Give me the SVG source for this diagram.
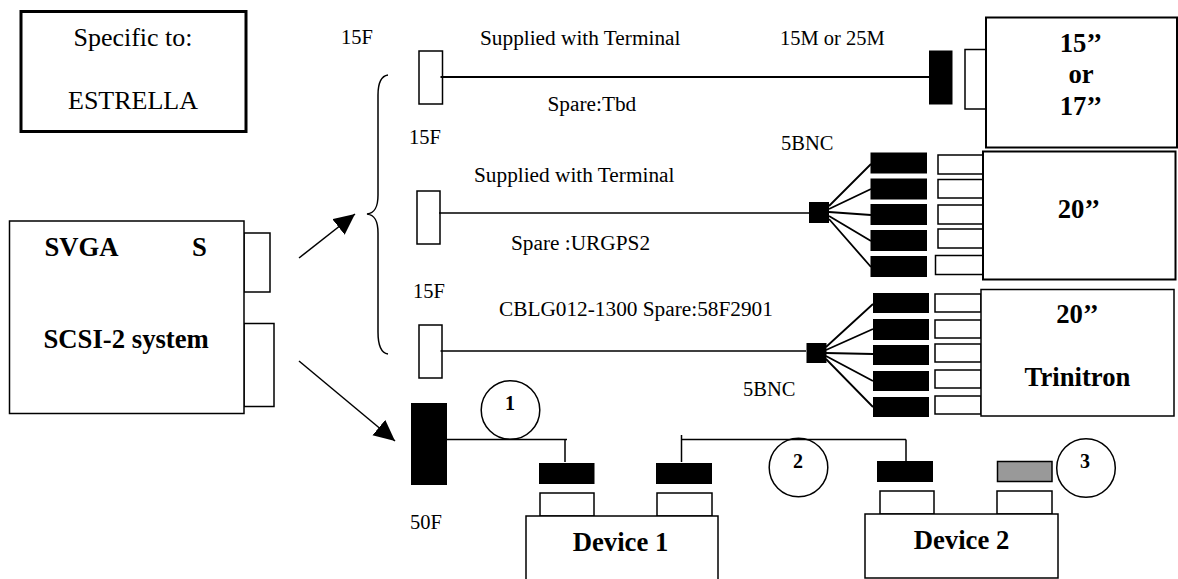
<svg xmlns="http://www.w3.org/2000/svg" width="1178" height="579" viewBox="0 0 1178 579">
<style>
text{font-family:"Liberation Serif","Times New Roman",serif;fill:#000}
.t{font-size:20.5px}
.w2{font-size:21.3px}
.b{font-size:26.7px;font-weight:bold}
.n{font-size:20px;font-weight:bold;text-anchor:middle}
.m{text-anchor:middle}
.w{fill:#fff;stroke:#000;stroke-width:1.5}
.k{fill:#000}
.l{fill:none;stroke:#000;stroke-width:1.5}
.h{fill:none;stroke:#000;stroke-width:1.8}
</style>
<defs><marker id="ah" markerUnits="userSpaceOnUse" markerWidth="24" markerHeight="22" refX="21" refY="10" orient="auto"><path d="M0 0L21 10L0 20Z" fill="#000"/></marker></defs>
<rect width="1178" height="579" fill="#fff"/>
<g id="cable-a-source"><rect class="w" x="419" y="51" width="23.500" height="53"/></g>
<g id="cable-b-source"><rect class="w" x="417" y="191" width="23" height="53"/></g>
<g id="cable-c-source"><rect class="w" x="419" y="325" width="23" height="53"/></g>
<g id="connectors">
<path class="h" d="M440.500 77H929"/>
<path class="l" d="M439 213H809M440.500 351H806"/>
<path class="h" d="M829 206L871 164M829 209L871 189M829 212L871 215M829 216L871 241M829 219L871 267"/>
<path class="h" d="M826 347L873 304M826 350L873 329M826 353L873 354M826 356L873 381M826 359L873 407"/>
<path class="l" d="M446 439.500H567M565 439.500V462M682 439.500H906M681.500 435V462M906 439.500V461"/>
<path class="l" d="M299 258L355 214" marker-end="url(#ah)"/>
<path class="l" d="M299 361L395 441" marker-end="url(#ah)"/>
<path class="l" d="M388 75C381 76 378 84 378 95V195C378 207 375 213 367 214C375 215 378 221 378 233V332C378 345 381 353 388 354"/>
</g>
<g id="note"><rect x="21" y="11.500" width="225" height="120" fill="#fff" stroke="#000" stroke-width="3"/>
<text class="m" x="133" y="46" style="font-size:26px">Specific to:</text><text class="m" x="133" y="109" style="font-size:26px">ESTRELLA</text></g>
<g id="system"><rect class="w" x="244" y="233" width="26" height="59"/><rect class="w" x="244" y="323.500" width="30" height="83"/><rect class="w" x="9.500" y="221" width="234.500" height="192.500"/>
<text class="b" x="44.500" y="256">SVGA</text><text class="b" x="192" y="256">S</text><text class="b" x="43.500" y="348">SCSI-2 system</text></g>
<g id="labels">
<text class="t" x="341" y="44">15F</text><text class="w2" x="480" y="45">Supplied with Terminal</text><text class="t" x="780" y="45">15M or 25M</text>
<text class="w2" x="547.500" y="111">Spare:Tbd</text><text class="t" x="409" y="143.500">15F</text><text class="t" x="781" y="150">5BNC</text>
<text class="w2" x="474" y="182">Supplied with Terminal</text><text class="w2" x="511" y="250">Spare :URGPS2</text><text class="t" x="413" y="298">15F</text>
<text class="w2" x="499" y="316">CBLG012-1300 Spare:58F2901</text><text class="t" x="743" y="396">5BNC</text><text class="t" x="410" y="529">50F</text>
</g>
<g id="plug-a"><rect class="k" x="929" y="50.500" width="23.500" height="54"/></g>
<g id="monitor-15"><rect class="w" x="965" y="49.500" width="21" height="59.500"/><rect x="986" y="17.500" width="191" height="130" fill="#fff" stroke="#000" stroke-width="2"/>
<text class="b m" x="1081" y="52">15’’</text><text class="b m" x="1081" y="83">or</text><text class="b m" x="1081" y="115">17’’</text></g>
<g id="hub-b" class="k"><rect x="809" y="202" width="20" height="21"/><rect x="870.500" y="152.500" width="56.500" height="21"/><rect x="870.500" y="178.500" width="56.500" height="21"/><rect x="870.500" y="204" width="56.500" height="21"/><rect x="870.500" y="230" width="56.500" height="21"/><rect x="870.500" y="256" width="56.500" height="21"/></g>
<g id="monitor-20"><rect class="w" x="938" y="155" width="45" height="19"/><rect class="w" x="938" y="179.500" width="45" height="18.500"/><rect class="w" x="938" y="205" width="45" height="19"/><rect class="w" x="938" y="229" width="45" height="19"/><rect class="w" x="935.500" y="255.500" width="47.500" height="19"/>
<rect x="983" y="151.500" width="192.500" height="128" fill="#fff" stroke="#000" stroke-width="2"/><text class="b m" x="1079" y="218">20’’</text></g>
<g id="hub-c" class="k"><rect x="806.500" y="343" width="20" height="20"/><rect x="873" y="293" width="56" height="20"/><rect x="873" y="319" width="56" height="21"/><rect x="873" y="345" width="56" height="20"/><rect x="873" y="371" width="56" height="20"/><rect x="873" y="397" width="56" height="20"/></g>
<g id="monitor-trinitron"><rect class="w" x="935" y="294" width="46" height="18"/><rect class="w" x="935" y="320" width="46" height="18"/><rect class="w" x="935" y="344" width="46" height="18"/><rect class="w" x="935" y="370" width="46" height="18"/><rect class="w" x="935" y="396" width="46" height="18"/>
<rect class="w" x="981" y="289.500" width="193" height="126.500"/><text class="b m" x="1077.500" y="323">20’’</text><text class="b m" x="1077.500" y="386">Trinitron</text></g>
<g id="plug-50f"><rect class="k" x="411" y="403" width="36" height="82"/></g>
<g id="device-1"><rect class="k" x="539" y="463" width="55.500" height="21"/><rect class="k" x="656" y="463" width="56" height="21"/><rect class="w" x="540" y="493" width="54" height="23"/><rect class="w" x="657" y="493" width="55" height="23"/><rect class="w" x="526" y="516" width="192" height="70"/><text class="b m" x="620.500" y="551">Device 1</text></g>
<g id="device-2"><rect class="k" x="877" y="461" width="56" height="21"/><rect x="997.500" y="461.500" width="54.500" height="20" fill="#999" stroke="#000" stroke-width="1.5"/><rect class="w" x="880" y="491" width="54" height="23"/><rect class="w" x="997" y="491" width="55" height="23"/><rect class="w" x="865" y="514" width="193" height="64"/><text class="b m" x="961.500" y="549">Device 2</text></g>
<g id="badge-1"><circle class="l" cx="510.500" cy="410" r="29.300"/><text class="n" x="510" y="410">1</text></g>
<g id="badge-2"><circle class="l" cx="798.500" cy="467.500" r="29.300"/><text class="n" x="798" y="468">2</text></g>
<g id="badge-3"><circle class="l" cx="1086" cy="468" r="29.300"/><text class="n" x="1085" y="468">3</text></g>
</svg>
